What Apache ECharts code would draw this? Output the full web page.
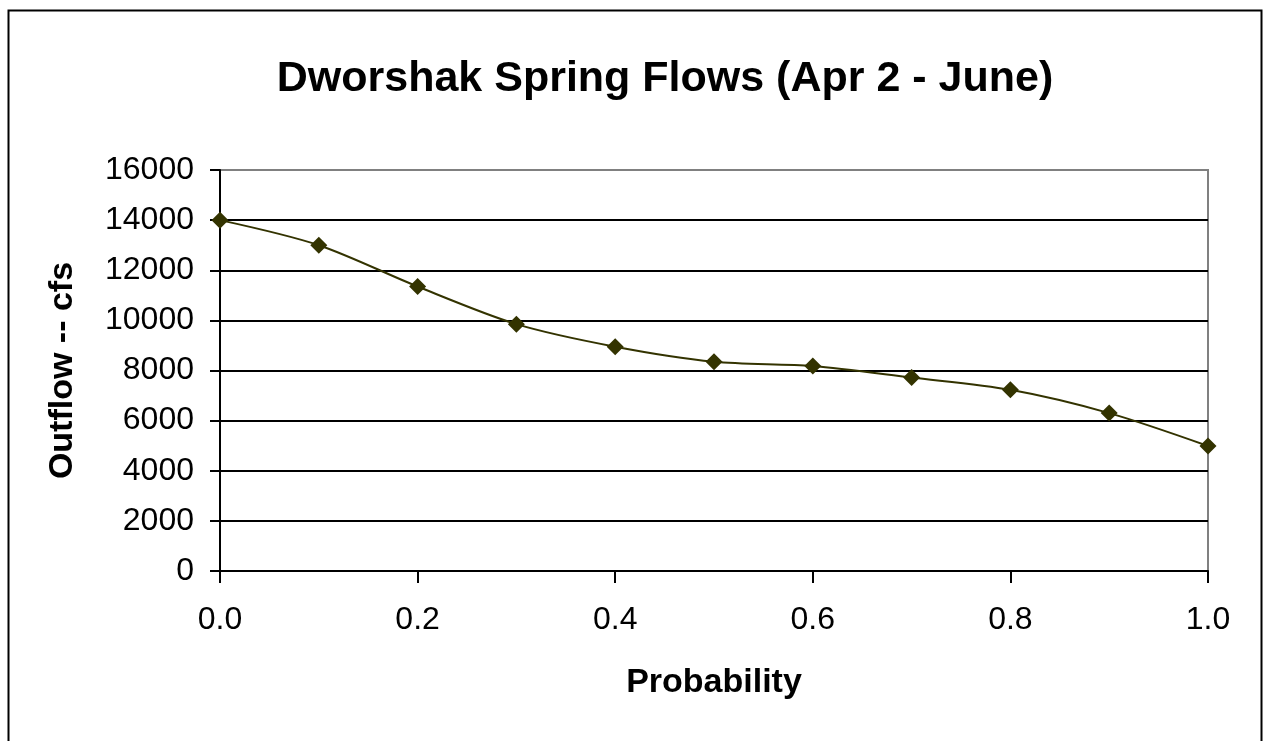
<!DOCTYPE html>
<html>
<head>
<meta charset="utf-8">
<script src="https://cdn.jsdelivr.net/npm/echarts@6/dist/echarts.min.js"></script>
<style>
html,body{margin:0;padding:0;background:#fff;}
#c{width:1264px;height:741px;}
</style>
</head>
<body>
<div id="c"></div>
<script>
const probability = [0.0, 0.1, 0.2, 0.3, 0.4, 0.5, 0.6, 0.7, 0.8, 0.9, 1.0];
const outflow = [14000, 13000, 11350, 9850, 8950, 8350, 8180, 7720, 7230, 6300, 4990];
const titleText = 'Dworshak Spring Flows (Apr 2 - June)';
const xName = 'Probability';
const yName = 'Outflow -- cfs';

const chart = echarts.init(document.getElementById('c'));
const font = '"Liberation Sans", Arial, sans-serif';
chart.setOption({
  animation: false,
  backgroundColor: '#fff',
  textStyle: { fontFamily: font },
  title: {
    text: titleText,
    left: 660, top: 53, textAlign: 'center',
    textStyle: { fontFamily: font, fontSize: 43, fontWeight: 'bold', color: '#000' }
  },
  graphic: [{
    type: 'rect', shape: { x: 8.5, y: 10.5, width: 1253, height: 760 },
    style: { fill: 'none', stroke: '#000', lineWidth: 2 }, z: 100
  }],
  grid: {
    left: 220, right: 56, top: 170, bottom: 170,
    show: true, borderColor: '#808080', borderWidth: 2, backgroundColor: 'transparent'
  },
  xAxis: {
    type: 'value', min: 0, max: 1, interval: 0.2,
    name: xName, nameLocation: 'middle', nameGap: 95,
    nameTextStyle: { fontFamily: font, fontSize: 34, fontWeight: 'bold', color: '#000' },
    axisLine: { show: true, lineStyle: { color: '#000', width: 2 } },
    axisTick: { show: true, length: 12, inside: false, lineStyle: { color: '#000', width: 2 } },
    axisLabel: { fontFamily: font, fontSize: 32, color: '#000', margin: 33,
      formatter: v => v.toFixed(1) },
    splitLine: { show: false }
  },
  yAxis: {
    type: 'value', min: 0, max: 16000, interval: 2000,
    name: yName, nameLocation: 'middle', nameGap: 140, nameRotate: 90,
    nameTextStyle: { fontFamily: font, fontSize: 34, fontWeight: 'bold', color: '#000' },
    axisLine: { show: true, lineStyle: { color: '#000', width: 2 } },
    axisTick: { show: true, length: 10, inside: false, lineStyle: { color: '#000', width: 2 } },
    axisLabel: { fontFamily: font, fontSize: 32, color: '#000', margin: 26,
      formatter: v => String(v) },
    splitLine: { show: true, lineStyle: { color: ['#808080','#000','#000','#000','#000','#000','#000','#000','#808080'], width: 2 } }
  },
  series: [{
    type: 'line',
    data: probability.map((p, i) => [p, outflow[i]]),
    smooth: 0.3,
    symbol: 'diamond', symbolSize: 17,
    lineStyle: { color: '#333300', width: 2 },
    itemStyle: { color: '#333300' },
    z: 10
  }]
});
</script>
</body>
</html>
